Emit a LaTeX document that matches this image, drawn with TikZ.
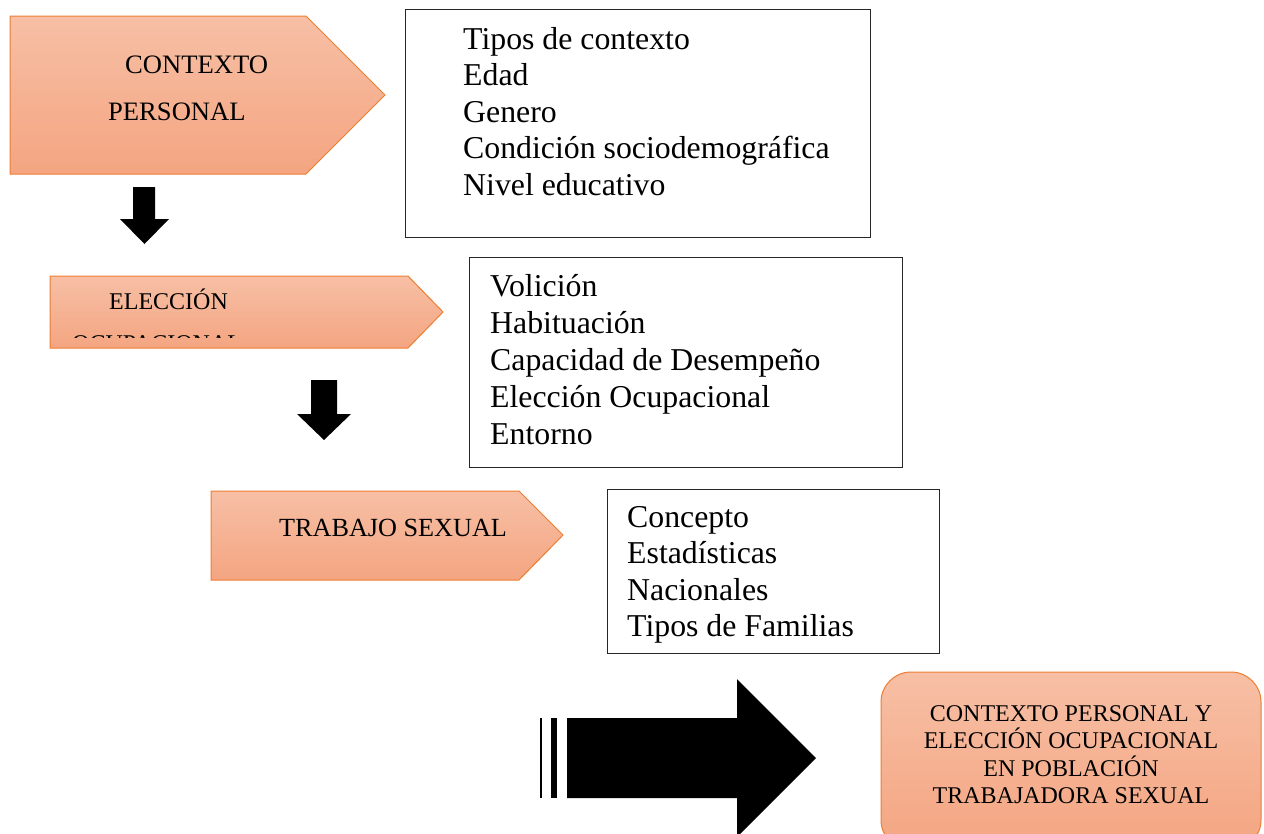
\documentclass[tikz,border=0pt]{standalone}
\usepackage{fontspec}
\setmainfont{Liberation Serif}
\definecolor{salmtop}{HTML}{F7BFA5}
\definecolor{salmbot}{HTML}{F4A581}
\definecolor{tagedge}{HTML}{ED7D31}
\begin{document}
\begin{tikzpicture}[x=1pt,y=-1pt,
  tag/.style={draw=tagedge, line width=1pt, top color=salmtop, bottom color=salmbot},
  listbox/.style={draw=black!85, line width=1pt, inner sep=0pt},
  listtext/.style={font=\fontsize{31.8}{36.5}\selectfont, align=left, inner sep=0pt, anchor=north west},
  taglabel/.style={font=\fontsize{26.6}{30}\selectfont, inner sep=0pt, anchor=base west},
  blockarrow/.style={fill=black, draw=none}]
\useasboundingbox (0,0) rectangle (1264,833);

% --- tag 1: CONTEXTO PERSONAL
\path[tag] (10,16) -- (306,16) -- (385,95) -- (306,174) -- (10,174) -- cycle;
\node[taglabel] (c1) at (125,73.3) {CONTEXTO};
\node[taglabel] (c2) at (108,120) {PERSONAL};

% --- list box 1
\node[listbox, minimum width=465pt, minimum height=228pt] (b1) at (637.5,123) {};
\node[listtext] (b1t) at (463,27) {Tipos de contexto\\Edad\\Genero\\Condición sociodemográfica\\Nivel educativo};

% --- down arrow 1
\path[blockarrow] (133,187) -- (155,187) -- (155,219) -- (169,219) -- (144.5,244) -- (120,219) -- (133,219) -- cycle;

% --- tag 2: ELECCIÓN OCUPACIONAL
\path[tag] (50,276) -- (408,276) -- (443,312) -- (408,348) -- (50,348) -- cycle;
\node[taglabel, font=\fontsize{24}{29}\selectfont] (e1) at (109,309) {ELECCIÓN};
\begin{scope}
  \clip (50,276) rectangle (443,337);
  \node[taglabel, font=\fontsize{24}{29}\selectfont] (e2) at (72,351) {OCUPACIONAL};
\end{scope}

% --- list box 2
\node[listbox, minimum width=433pt, minimum height=210pt] (b2) at (685.5,362) {};
\node[listtext, font=\fontsize{31.8}{37.1}\selectfont] (b2t) at (490,274.2) {Volición\\Habituación\\Capacidad de Desempeño\\Elección Ocupacional\\Entorno};

% --- down arrow 2
\path[blockarrow] (311,380) -- (337,380) -- (337,414) -- (351,414) -- (324,440) -- (297,414) -- (311,414) -- cycle;

% --- tag 3: TRABAJO SEXUAL
\path[tag] (211,491) -- (519,491) -- (563,535) -- (519,580) -- (211,580) -- cycle;
\node[taglabel, font=\fontsize{26.2}{30}\selectfont] (t1) at (279,536) {TRABAJO SEXUAL};

% --- list box 3
\node[listbox, minimum width=332pt, minimum height=164pt] (b3) at (773,571) {};
\node[listtext, font=\fontsize{31.8}{36.3}\selectfont] (b3t) at (627,506.4) {Concepto\\Estadísticas\\Nacionales\\Tipos de Familias};

% --- big arrow
\path[blockarrow] (540,718) rectangle (542,798);
\path[blockarrow] (551,718) rectangle (557,798);
\path[blockarrow] (567,718) -- (737,718) -- (737,679) -- (816,758) -- (737,837) -- (737,798) -- (567,798) -- cycle;

% --- final box
\node[tag, rounded corners=30pt, minimum width=380pt, minimum height=178pt, inner sep=0pt] (fin) at (1071,761) {};
\node[font=\fontsize{24}{27.2}\selectfont, align=center, inner sep=0pt] (fint) at (1071,754.7)
  {CONTEXTO PERSONAL Y\\ELECCIÓN OCUPACIONAL\\EN POBLACIÓN\\TRABAJADORA SEXUAL};
\end{tikzpicture}
\end{document}
